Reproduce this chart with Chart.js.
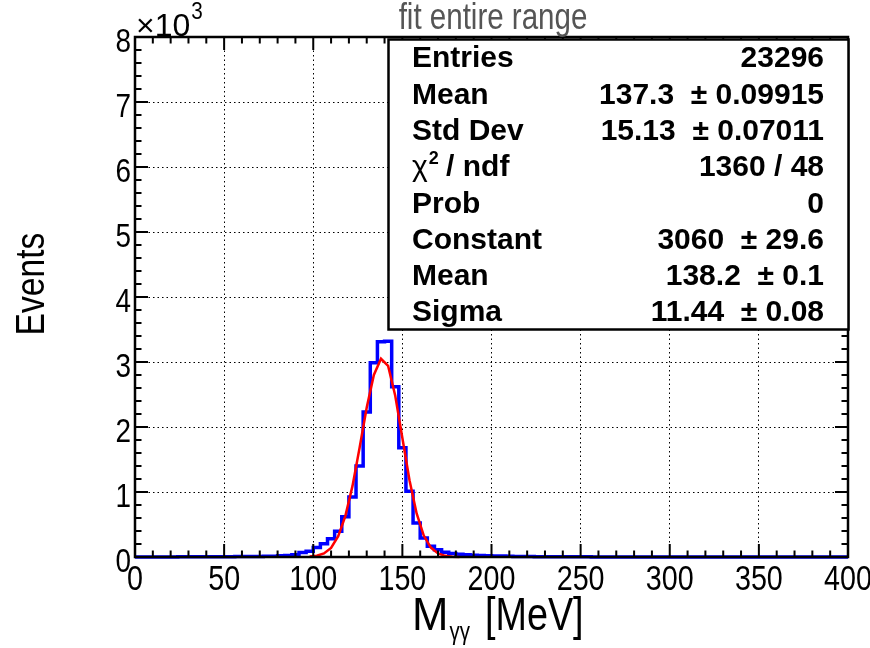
<!DOCTYPE html>
<html>
<head>
<meta charset="utf-8">
<script src="https://cdn.jsdelivr.net/npm/chart.js@4/dist/chart.umd.min.js"></script>
<style>
  html, body { margin: 0; padding: 0; background: #fff; }
</style>
</head>
<body>
<canvas id="myChart" width="870" height="648"></canvas>
<script>
// binning of the histogram (MeV)
const xMin = 0, xMax = 400, binWidth = 4;

// events per 4 MeV bin
const counts = [
  0, 0, 0, 1, 1, 1, 2, 2, 2, 3,
  3, 4, 4, 5, 6, 7, 8, 9, 11, 13,
  18, 22, 35, 70, 88, 145, 205, 280, 395, 620,
  925, 1400, 2230, 2990, 3310, 3320, 2620, 1680, 1010, 525,
  292, 165, 112, 72, 55, 42, 34, 28, 25, 20,
  17, 14, 11, 9, 7, 6, 5, 4, 4, 3,
  3, 2, 2, 2, 1, 1, 1, 1, 1, 0,
  1, 0, 0, 1, 0, 0, 0, 0, 0, 0,
  0, 0, 0, 0, 0, 0, 0, 0, 0, 0,
  0, 0, 0, 0, 0, 0, 0, 0, 0, 0
];

// red gaussian fit, as drawn (vertices at bin centres)
const fitX = [98, 102, 106, 110, 114, 118, 122, 126, 130, 134, 138,
              142, 146, 150, 154, 158, 162, 166, 170, 174, 178, 182];
const fitY = [8, 20, 55, 140, 320, 630, 1090, 1680, 2300, 2800, 3050,
              2940, 2480, 1830, 1180, 670, 330, 145, 55, 18, 5, 1];

// stats box
const statNames = ['Entries', 'Mean', 'Std Dev', 'chi2', 'Prob', 'Constant', 'Mean', 'Sigma'];
const statVals = ['23296', '137.3  \u00b1 0.09915', '15.13  \u00b1 0.07011', '1360 / 48',
                  '0', '3060  \u00b1 29.6', '138.2  \u00b1 0.1', '11.44  \u00b1 0.08'];

const titleText = 'fit entire range';
const FONT = '"Liberation Sans", Arial, Helvetica, sans-serif';

// histogram as a stepped line: one point per left bin edge + closing point
const histPts = counts.map((c, i) => ({ x: xMin + i * binWidth, y: c }));
histPts.push({ x: xMax, y: counts[counts.length - 1] });
const fitPts = fitX.map((x, i) => ({ x: x, y: fitY[i] }));

// ROOT's helvetica looks condensed here: squeeze regular text horizontally
function narrowText(c, text, x, y, size, align, sx) {
  sx = sx || 0.82;
  c.save();
  c.font = size + 'px ' + FONT;
  c.translate(x, y);
  c.scale(sx, 1);
  c.textAlign = align || 'left';
  c.fillText(text, 0, 0);
  const w = c.measureText(text).width * sx;
  c.restore();
  return w;
}

const rootFrame = {
  id: 'rootFrame',
  beforeDraw(chart) {
    const c = chart.ctx;
    c.save();
    c.fillStyle = '#fff';
    c.fillRect(0, 0, chart.width, chart.height);
    c.restore();
  },
  afterDraw(chart) {
    const c = chart.ctx;
    const a = chart.chartArea;
    const xs = chart.scales.x, ys = chart.scales.y;
    c.save();

    // ticks on all four sides, pointing inward
    c.strokeStyle = '#000';
    c.lineWidth = 2;
    c.beginPath();
    for (let v = 0; v <= 400; v += 10) {
      const px = xs.getPixelForValue(v);
      const len = v % 50 === 0 ? 13 : 6.5;
      c.moveTo(px, a.bottom); c.lineTo(px, a.bottom - len);
      c.moveTo(px, a.top); c.lineTo(px, a.top + len);
    }
    for (let v = 0; v <= 8000; v += 200) {
      const py = ys.getPixelForValue(v);
      const len = v % 1000 === 0 ? 13 : 6.5;
      c.moveTo(a.left, py); c.lineTo(a.left + len, py);
      c.moveTo(a.right, py); c.lineTo(a.right - len, py);
    }
    c.stroke();

    // frame
    c.lineWidth = 2.5;
    c.strokeRect(a.left, a.top, a.right - a.left, a.bottom - a.top);

    c.textBaseline = 'alphabetic';
    c.fillStyle = '#000';

    // tick labels from the scales' own ticks
    xs.ticks.forEach(t => {
      narrowText(c, String(t.value), xs.getPixelForValue(t.value), 590, 35, 'center');
    });
    ys.ticks.forEach(t => {
      narrowText(c, String(t.value / 1000), 131, ys.getPixelForValue(t.value) + 14.5, 34, 'right');
    });

    // title
    c.fillStyle = '#555';
    narrowText(c, titleText, 493, 29, 36, 'center');

    // x10^3
    c.fillStyle = '#000';
    const w10 = narrowText(c, '\u00d710', 136, 36, 32, 'left', 1);
    narrowText(c, '3', 136 + w10 + 1, 19, 23, 'left', 0.9);

    // y title
    c.save();
    c.translate(44, 284);
    c.rotate(-Math.PI / 2);
    narrowText(c, 'Events', 0, 0, 41, 'center');
    c.restore();

    // x title  M_{gamma gamma} [MeV]
    const mw = narrowText(c, 'M', 412, 630, 46, 'left', 0.95);
    narrowText(c, '\u03b3\u03b3', 412 + mw + 1, 640, 25);
    narrowText(c, '[MeV]', 485, 630, 46);

    // stats box
    const bx = 388.5, by = 39.5, bw = 460, bh = 290;
    c.fillStyle = '#fff';
    c.fillRect(bx, by, bw, bh);
    c.strokeStyle = '#000';
    c.lineWidth = 2.5;
    c.strokeRect(bx, by, bw, bh);

    c.fillStyle = '#000';
    statNames.forEach((name, i) => {
      const yb = 67.3 + i * 36.3;
      c.textAlign = 'left';
      if (name === 'chi2') {
        c.font = '30px ' + FONT;
        c.fillText('\u03c7', 412, yb);
        const w = c.measureText('\u03c7').width;
        c.font = 'bold 18px ' + FONT;
        c.fillText('2', 412 + w + 1, yb - 12);
        c.font = 'bold 30px ' + FONT;
        c.fillText(' / ndf', 412 + w + 10, yb);
      } else {
        c.font = 'bold 30px ' + FONT;
        c.fillText(name, 412, yb);
      }
      c.font = 'bold 30px ' + FONT;
      c.textAlign = 'right';
      c.fillText(statVals[i], 824, yb);
    });

    c.restore();
  }
};

const ctx = document.getElementById('myChart').getContext('2d');
const myChart = new Chart(ctx, {
  type: 'line',
  data: {
    datasets: [{
      label: 'fit',
      data: fitPts,
      borderColor: '#ff0000',
      borderWidth: 2.5,
      pointRadius: 0,
      tension: 0,
      fill: false,
      order: 0,
      clip: 4
    }, {
      label: 'Events',
      data: histPts,
      borderColor: '#0000ff',
      borderWidth: 3.5,
      pointRadius: 0,
      stepped: true,
      fill: false,
      order: 1,
      clip: 4
    }]
  },
  options: {
    responsive: false,
    animation: false,
    devicePixelRatio: 1,
    layout: { padding: { top: 37, right: 22, left: 0, bottom: 0 } },
    plugins: {
      legend: { display: false },
      tooltip: { enabled: false },
      title: { display: false }
    },
    scales: {
      x: {
        type: 'linear',
        min: 0,
        max: 400,
        ticks: { stepSize: 50, display: false, autoSkip: false },
        grid: { color: '#000', lineWidth: 1, drawTicks: false },
        border: { display: false, dash: [1.5, 3] },
        afterFit(s) { s.height = 91; s.paddingLeft = 0; s.paddingRight = 0; }
      },
      y: {
        min: 0,
        max: 8000,
        ticks: { stepSize: 1000, display: false },
        grid: { color: '#000', lineWidth: 1, drawTicks: false },
        border: { display: false, dash: [1.5, 3] },
        afterFit(s) { s.width = 135; s.paddingTop = 0; s.paddingBottom = 0; }
      }
    }
  },
  plugins: [rootFrame]
});
</script>
</body>
</html>
